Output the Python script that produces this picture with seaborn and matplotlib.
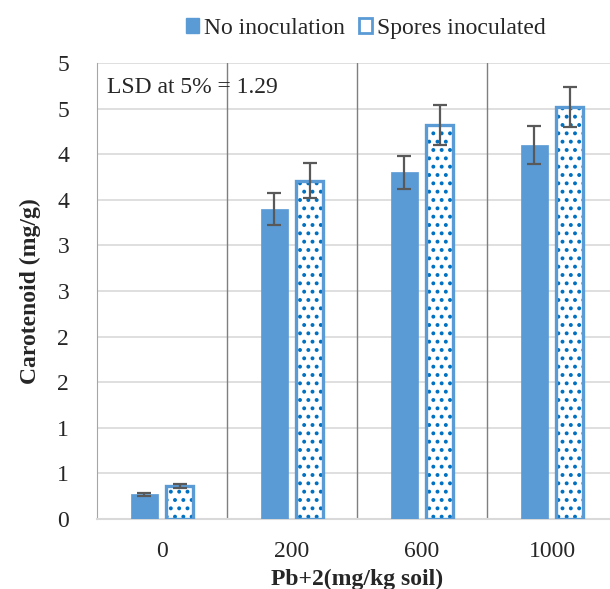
import numpy as np
import pandas as pd
import matplotlib
matplotlib.use("Agg")
import matplotlib.pyplot as plt
import seaborn as sns
from matplotlib.patches import Rectangle, Patch

doses = ["0", "200", "600", "1000"]
treatments = ["No inoculation", "Spores inoculated"]
no_inoc = [0.27, 3.40, 3.80, 4.10]
spores = [0.36, 3.71, 4.32, 4.52]
no_inoc_err = [0.015, 0.175, 0.18, 0.21]
spores_err = [0.02, 0.19, 0.22, 0.22]
y_ticks = [0, 0.5, 1, 1.5, 2, 2.5, 3, 3.5, 4, 4.5, 5]

sns.set_style("white")
plt.rcParams["font.family"] = ["Liberation Serif", "DejaVu Serif"]
plt.rcParams["hatch.linewidth"] = 1.6

df = pd.DataFrame({
    "dose": doses * 2,
    "treat": [treatments[0]] * 4 + [treatments[1]] * 4,
    "val": no_inoc + spores,
})

fig = plt.figure(figsize=(6.10, 5.89), dpi=100)
ax = fig.add_axes([0.159, 0.1188, 1.0115 - 0.159, 0.893 - 0.1188])

fill = "#5B9BD5"
sns.barplot(data=df, x="dose", y="val", hue="treat", order=doses,
            hue_order=treatments, palette=[fill, "white"], width=0.48,
            errorbar=None, ax=ax, legend=False, zorder=3)

bars = [p for p in ax.patches if isinstance(p, Rectangle) and p.get_width() > 0]
bars = sorted(bars, key=lambda p: p.get_x())
errs = []
for i, p in enumerate(bars):
    grp = i % 2
    cat = i // 2
    p.set_width(0.21)
    if grp == 0:
        p.set_x(cat - 0.135 - 0.105)
        p.set_facecolor(fill)
        p.set_edgecolor(fill)
        p.set_linewidth(0.5)
        errs.append((p.get_x() + 0.105, p.get_height(), no_inoc_err[cat]))
    else:
        p.set_x(cat + 0.135 - 0.105)
        p.set_facecolor("white")
        p.set_edgecolor("#0070C0")
        p.set_hatch("..")
        p.set_linewidth(0)
        ax.add_patch(Rectangle((p.get_x(), 0), p.get_width(), p.get_height(),
                               fill=False, edgecolor=fill, linewidth=2.4, zorder=4))
        errs.append((p.get_x() + 0.105, p.get_height(), spores_err[cat]))

for x, h, e in errs:
    ax.errorbar(x, h, yerr=e, color="#595959", capsize=5, elinewidth=1.6,
                capthick=1.6, zorder=5, fmt="none")

ax.set_xlim(-0.5, 3.5)
ax.set_ylim(0, 5)
ax.set_yticks(y_ticks)
ax.set_yticklabels([str(int(np.floor(v + 0.5))) for v in y_ticks])
ax.yaxis.grid(True, color="#D9D9D9", linewidth=1.2, zorder=0)
for xb in [0.5, 1.5, 2.5]:
    ax.axvline(xb, color="#7F7F7F", linewidth=1, zorder=1)
for s in ["top", "right"]:
    ax.spines[s].set_visible(False)
ax.spines["left"].set_color("#A6A6A6")
ax.spines["bottom"].set_color("#D9D9D9")
ax.spines["bottom"].set_linewidth(1.5)
ax.tick_params(axis="both", length=0, labelsize=17)
ax.tick_params(axis="x", pad=16)
ax.tick_params(axis="y", pad=20)
ax.set_xlabel("Pb+2(mg/kg soil)", fontsize=17, fontweight="bold", labelpad=5)
ax.set_ylabel("Carotenoid (mg/g)", fontsize=17, fontweight="bold", labelpad=12)

ax.text(0.02, 0.947, "LSD at 5% = 1.29", transform=ax.transAxes,
        fontsize=17, va="center", ha="left", zorder=6)

handles = [Patch(facecolor=fill, edgecolor=fill),
           Patch(facecolor="white", edgecolor=fill, linewidth=2)]
fig.legend(handles, treatments, loc="center", bbox_to_anchor=(0.6, 0.952),
           ncol=2, frameon=False, fontsize=17, handlelength=0.55,
           handleheight=0.55, handletextpad=0.2, columnspacing=0.6)

fig.savefig("out.png", dpi=100)
